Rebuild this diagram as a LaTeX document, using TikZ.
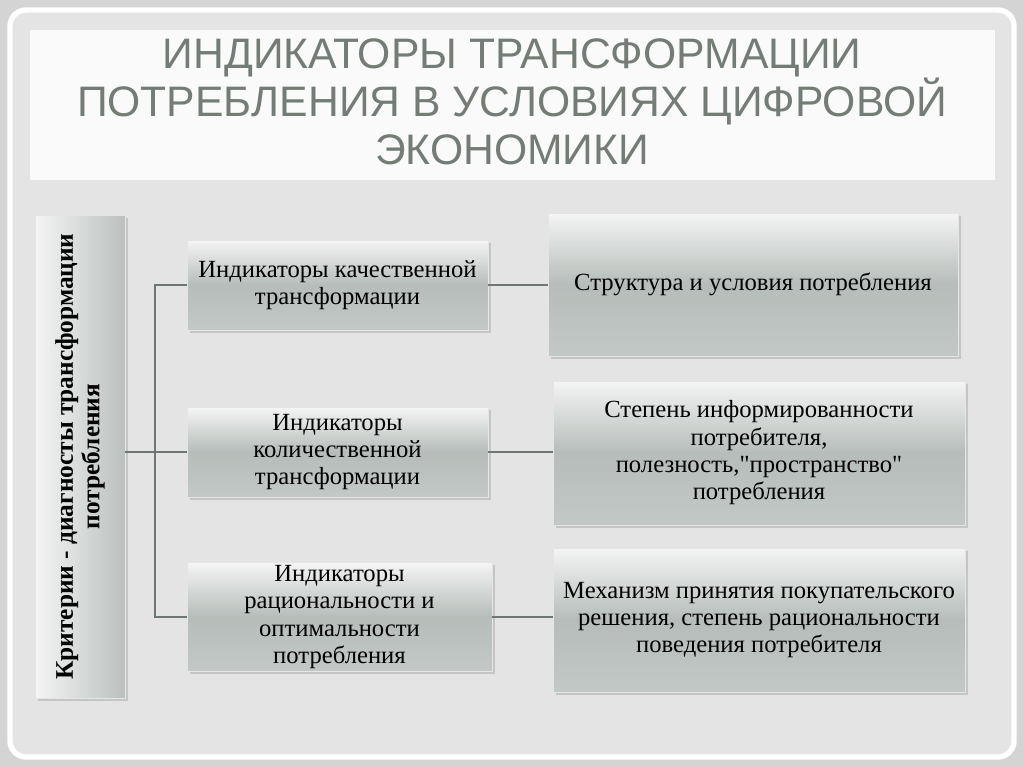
\documentclass[tikz,border=0pt]{standalone}
\usepackage{fontspec}
\setmainfont[Ligatures=TeXOff]{Liberation Serif}
\newfontfamily\titlefont{Liberation Sans}
\usetikzlibrary{shadows}
\definecolor{bg}{HTML}{E4E4E4}
\definecolor{outer}{HTML}{D4D4D4}
\definecolor{titlec}{HTML}{737D76}
\definecolor{boxtop}{HTML}{F4F5F4}
\definecolor{boxmid}{HTML}{A9B1AD}
\definecolor{linec}{HTML}{6E7872}
\tikzset{
 box/.style={draw=white!80!gray,line width=0.6pt,top color=boxtop,bottom color=boxmid!70!white,middle color=boxmid!85!white,
   shading angle=0,drop shadow={opacity=0.3,shadow xshift=2pt,shadow yshift=-2pt},
   align=center,font=\fontsize{18.5}{20.5}\selectfont,inner sep=2pt},
 conn/.style={draw=linec,line width=1.8pt}
}
\begin{document}
\begin{tikzpicture}[x=0.75pt,y=-0.75pt]
\useasboundingbox (0,0) rectangle (1024,767);
\fill[outer] (0,0) rectangle (1024,767);
\fill[bg,draw=white,line width=4pt,rounded corners=12pt] (10,10) rectangle (1014,757);
\fill[white!80!bg] (30,30) rectangle (995,180);
\node[font=\titlefont\fontsize{32}{36}\selectfont,text=titlec,align=center] (title) at (512,102)
 {ИНДИКАТОРЫ ТРАНСФОРМАЦИИ\\ПОТРЕБЛЕНИЯ В УСЛОВИЯХ ЦИФРОВОЙ\\ЭКОНОМИКИ};
\node[box,left color=boxtop,right color=boxmid!80!white,minimum width=90*0.75pt,minimum height=483*0.75pt] (L) at (80,456.5) {};
\node[rotate=90,font=\bfseries\fontsize{19}{20}\selectfont,align=center] (Lt) at (L.center)
 {Критерии - диагносты трансформации\\потребления};
\node[box,minimum width=301*0.75pt,minimum height=90*0.75pt] (m1) at (337.5,285) {Индикаторы качественной\\трансформации};
\node[box,minimum width=301*0.75pt,minimum height=90*0.75pt] (m2) at (337.5,452) {Индикаторы\\количественной\\трансформации};
\node[box,minimum width=305*0.75pt,minimum height=102*0.75pt] (m3) at (339.5,617) {Индикаторы\\рациональности и\\оптимальности\\потребления};
\node[box,minimum width=410*0.75pt,minimum height=143*0.75pt] (r1) at (753,284.5) {Структура и условия потребления};
\node[box,minimum width=412*0.75pt,minimum height=144*0.75pt] (r2) at (759,453) {Степень информированности\\потребителя,\\полезность,"пространство"\\потребления};
\node[box,minimum width=412*0.75pt,minimum height=144*0.75pt] (r3) at (759,620) {Механизм принятия покупательского\\решения, степень рациональности\\поведения потребителя};
\coordinate (j) at (155,452);
\draw[conn] (L.east |- j) -- (j);
\draw[conn] (m1.west) -| (j) |- (m3.west);
\draw[conn] (j) -- (m2.west);
\draw[conn] (m1.east) -- (m1.east -| r1.west);
\draw[conn] (m2.east) -- (m2.east -| r2.west);
\draw[conn] (m3.east) -- (m3.east -| r3.west);
\end{tikzpicture}
\end{document}
